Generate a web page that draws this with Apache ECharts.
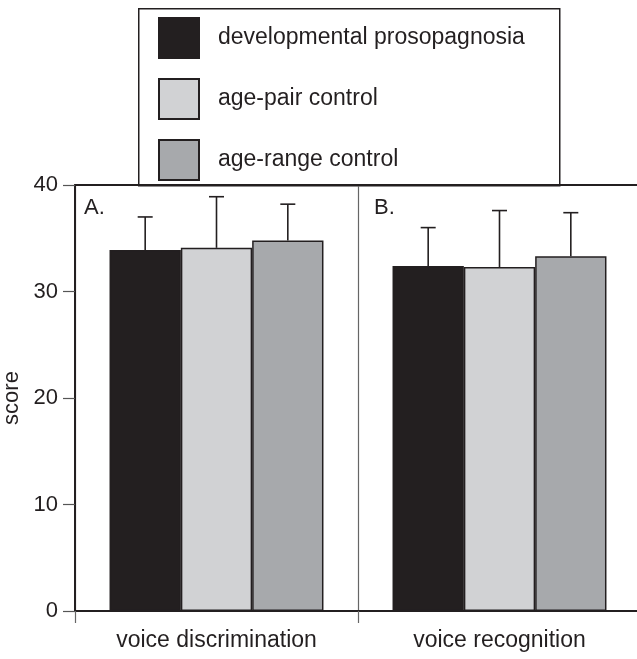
<!DOCTYPE html>
<html>
<head>
<meta charset="utf-8">
<script src="https://cdn.jsdelivr.net/npm/echarts@6/dist/echarts.min.js"></script>
<style>html,body{margin:0;padding:0;background:#fff;}#main{width:637px;height:659px;}</style>
</head>
<body>
<div id="main"></div>
<script>
// ---- data ----
var categories = ['voice discrimination', 'voice recognition'];
var seriesNames = ['developmental prosopagnosia', 'age-pair control', 'age-range control'];
var dpValues = [33.9, 32.4];
var pairValues = [34.1, 32.3];
var rangeValues = [34.8, 33.3];
var dpErr = [3.1, 3.6];
var pairErr = [4.8, 5.3];
var rangeErr = [3.4, 4.1];
var yTicks = [0, 10, 20, 30, 40];
var panelLabels = ['A.', 'B.'];

var FONT = 'Liberation Sans, Arial, Helvetica, sans-serif';
var INK = '#231f20';
var colors = ['#231f20', '#d1d2d4', '#a7a9ac'];
var GAP = 0.244;

function barSeries(name, vals, color) {
  return {
    name: name, type: 'bar', data: vals, barGap: 0, barCategoryGap: (GAP * 100) + '%',
    itemStyle: { color: color, borderColor: INK, borderWidth: 1.5 }, z: 2
  };
}
function errSeries(idx, vals, errs) {
  return {
    type: 'custom', z: 5, silent: true,
    encode: { x: 0, y: 1 },
    data: vals.map(function (v, i) { return [i, v, errs[i]]; }),
    renderItem: function (params, api) {
      var ci = api.value(0), v = api.value(1), e = api.value(2);
      var base = api.coord([ci, v]);
      var top = api.coord([ci, v + e]);
      var cw = api.size([1, 0])[0];
      var bw = cw * (1 - GAP) / 3;
      var x = base[0] + (idx - 1) * bw;
      var st = { stroke: INK, lineWidth: 1.6 };
      return { type: 'group', children: [
        { type: 'line', shape: { x1: x, y1: base[1], x2: x, y2: top[1] }, style: st },
        { type: 'line', shape: { x1: x - 7.5, y1: top[1], x2: x + 7.5, y2: top[1] }, style: st }
      ] };
    }
  };
}

var chart = echarts.init(document.getElementById('main'), null, { renderer: 'canvas' });
chart.setOption({
  animation: false,
  backgroundColor: '#fff',
  textStyle: { fontFamily: FONT },
  grid: { left: 75, right: -4, top: 185, bottom: 48, containLabel: false, outerBoundsMode: 'none' },
  legend: {
    data: seriesNames, orient: 'vertical', left: 158, top: 17, padding: 0,
    itemWidth: 40, itemHeight: 40, itemGap: 19, icon: 'rect',
    textStyle: { fontSize: 23, color: INK, fontFamily: FONT, padding: [0, 0, 0, 14] }
  },
  graphic: [
    { type: 'rect', left: 138, top: 8, z: 0, shape: { width: 421, height: 177 },
      style: { fill: '#fff', stroke: INK, lineWidth: 1.5 } },
    { type: 'text', left: 84, top: 197, z: 10, style: { text: panelLabels[0], fill: INK, font: '22px ' + FONT } },
    { type: 'text', left: 374, top: 197, z: 10, style: { text: panelLabels[1], fill: INK, font: '22px ' + FONT } }
  ],
  xAxis: [{
    type: 'category', data: categories, position: 'bottom',
    axisLine: { lineStyle: { color: INK, width: 2 } },
    axisTick: { show: true, length: 12, lineStyle: { color: '#666', width: 1.2 } },
    axisLabel: { fontSize: 23, color: INK, margin: 18, fontFamily: FONT },
    splitLine: { show: true, interval: 0, lineStyle: { color: '#666', width: 1.2 } }
  }, {
    type: 'category', data: categories, position: 'top',
    axisLine: { show: true, lineStyle: { color: INK, width: 2 } },
    axisTick: { show: false }, axisLabel: { show: false }, splitLine: { show: false }
  }],
  yAxis: {
    type: 'value', min: yTicks[0], max: yTicks[yTicks.length - 1], interval: 10,
    name: 'score', nameLocation: 'middle', nameGap: 50, nameRotate: 90,
    nameTextStyle: { fontSize: 22, color: INK, fontFamily: FONT },
    axisLine: { show: true, lineStyle: { color: INK, width: 2 } },
    axisTick: { show: true, length: 12, lineStyle: { color: '#555', width: 1.2 } },
    axisLabel: { fontSize: 22, color: INK, margin: 17, fontFamily: FONT },
    splitLine: { show: false }
  },
  series: [
    barSeries(seriesNames[0], dpValues, colors[0]),
    barSeries(seriesNames[1], pairValues, colors[1]),
    barSeries(seriesNames[2], rangeValues, colors[2]),
    errSeries(0, dpValues, dpErr),
    errSeries(1, pairValues, pairErr),
    errSeries(2, rangeValues, rangeErr)
  ]
});
</script>
</body>
</html>
